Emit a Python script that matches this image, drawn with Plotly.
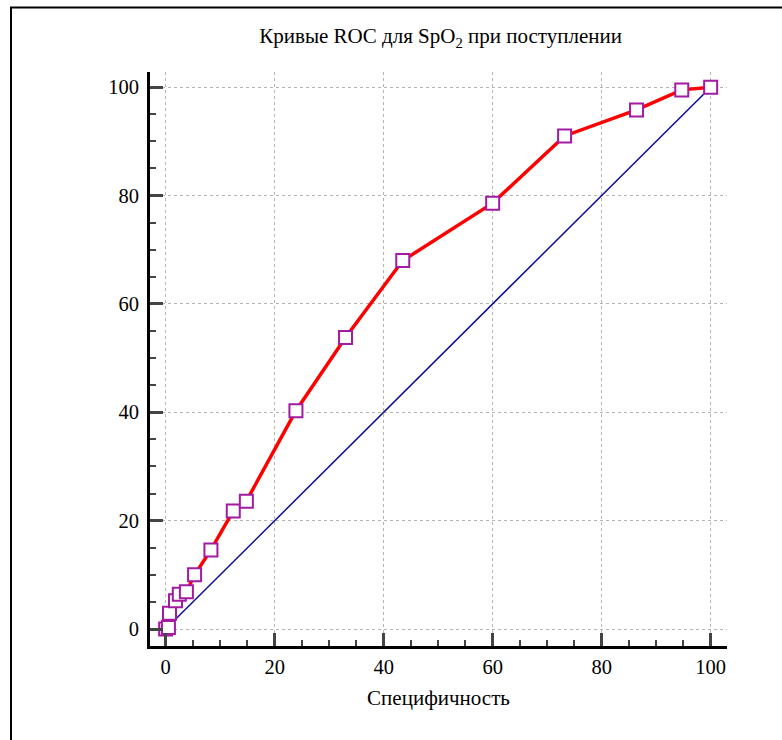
import plotly.graph_objects as go

# ROC curve points (x = 100 - specificity, y = sensitivity), in %
roc_x = [0, 0.5, 0.7, 1.8, 2.5, 3.8, 5.3, 8.3, 12.4, 14.8, 23.9, 33.0, 43.5, 60.0, 73.2, 86.4, 94.7, 100]
roc_y = [0, 0.3, 2.9, 5.2, 6.4, 6.9, 10.0, 14.6, 21.8, 23.6, 40.3, 53.8, 68.0, 78.6, 91.0, 95.8, 99.5, 100]

diag_x = [0, 100]
diag_y = [0, 100]

title_text = "Кривые ROC для SpO<sub>2</sub> при поступлении"
x_title = "Специфичность"
tick_vals = [0, 20, 40, 60, 80, 100]

FONT = "Liberation Serif"

fig = go.Figure()
fig.add_trace(go.Scatter(x=diag_x, y=diag_y, mode="lines",
                         line=dict(color="#0c0c9c", width=1.5),
                         showlegend=False, hoverinfo="skip"))
fig.add_trace(go.Scatter(x=roc_x, y=roc_y, mode="lines+markers",
                         line=dict(color="#ff0000", width=3.5),
                         marker=dict(symbol="square", size=13, color="white",
                                     line=dict(color="#a31aa3", width=2)),
                         showlegend=False, cliponaxis=False))

axis_common = dict(
    showline=True, linewidth=3, linecolor="black", mirror=False,
    showgrid=True, gridcolor="#b4b4b4", griddash="dot", gridwidth=1,
    zeroline=False,
    ticks="inside", ticklen=13, tickwidth=3, tickcolor="#444444",
    tickvals=tick_vals,
    tickfont=dict(family=FONT, size=20.5, color="black"),
    minor=dict(ticks="inside", ticklen=6, tickwidth=1.5, tickcolor="#444444",
               dtick=5, tick0=0, showgrid=False),
)

fig.update_xaxes(range=[-2.88, 103.0],
                 title=dict(text=x_title, font=dict(family=FONT, size=21, color="black"), standoff=14),
                 **axis_common)
fig.update_yaxes(range=[-3.13, 102.8], ticklabelstandoff=4, **axis_common)

# outer frame (left and top edges)
def px2x(px):
    return (px - 150) / 577.0

def py2y(py):
    return (646 - py) / 574.0

fig.add_shape(type="line", xref="paper", yref="paper",
              x0=px2x(11), x1=px2x(11), y0=py2y(7), y1=py2y(745),
              line=dict(color="black", width=2))
fig.add_shape(type="line", xref="paper", yref="paper",
              x0=px2x(10), x1=px2x(790), y0=py2y(7.5), y1=py2y(7.5),
              line=dict(color="black", width=2))

fig.update_layout(
    width=782, height=740,
    margin=dict(l=150, r=55, t=72, b=94),
    plot_bgcolor="white", paper_bgcolor="white",
    title=dict(text=title_text, x=0.5635, xref="container", xanchor="center",
               y=1 - 36 / 740, yref="container", yanchor="middle",
               font=dict(family=FONT, size=21, color="black")),
    font=dict(family=FONT, color="black"),
)

fig.write_html("out.html")
